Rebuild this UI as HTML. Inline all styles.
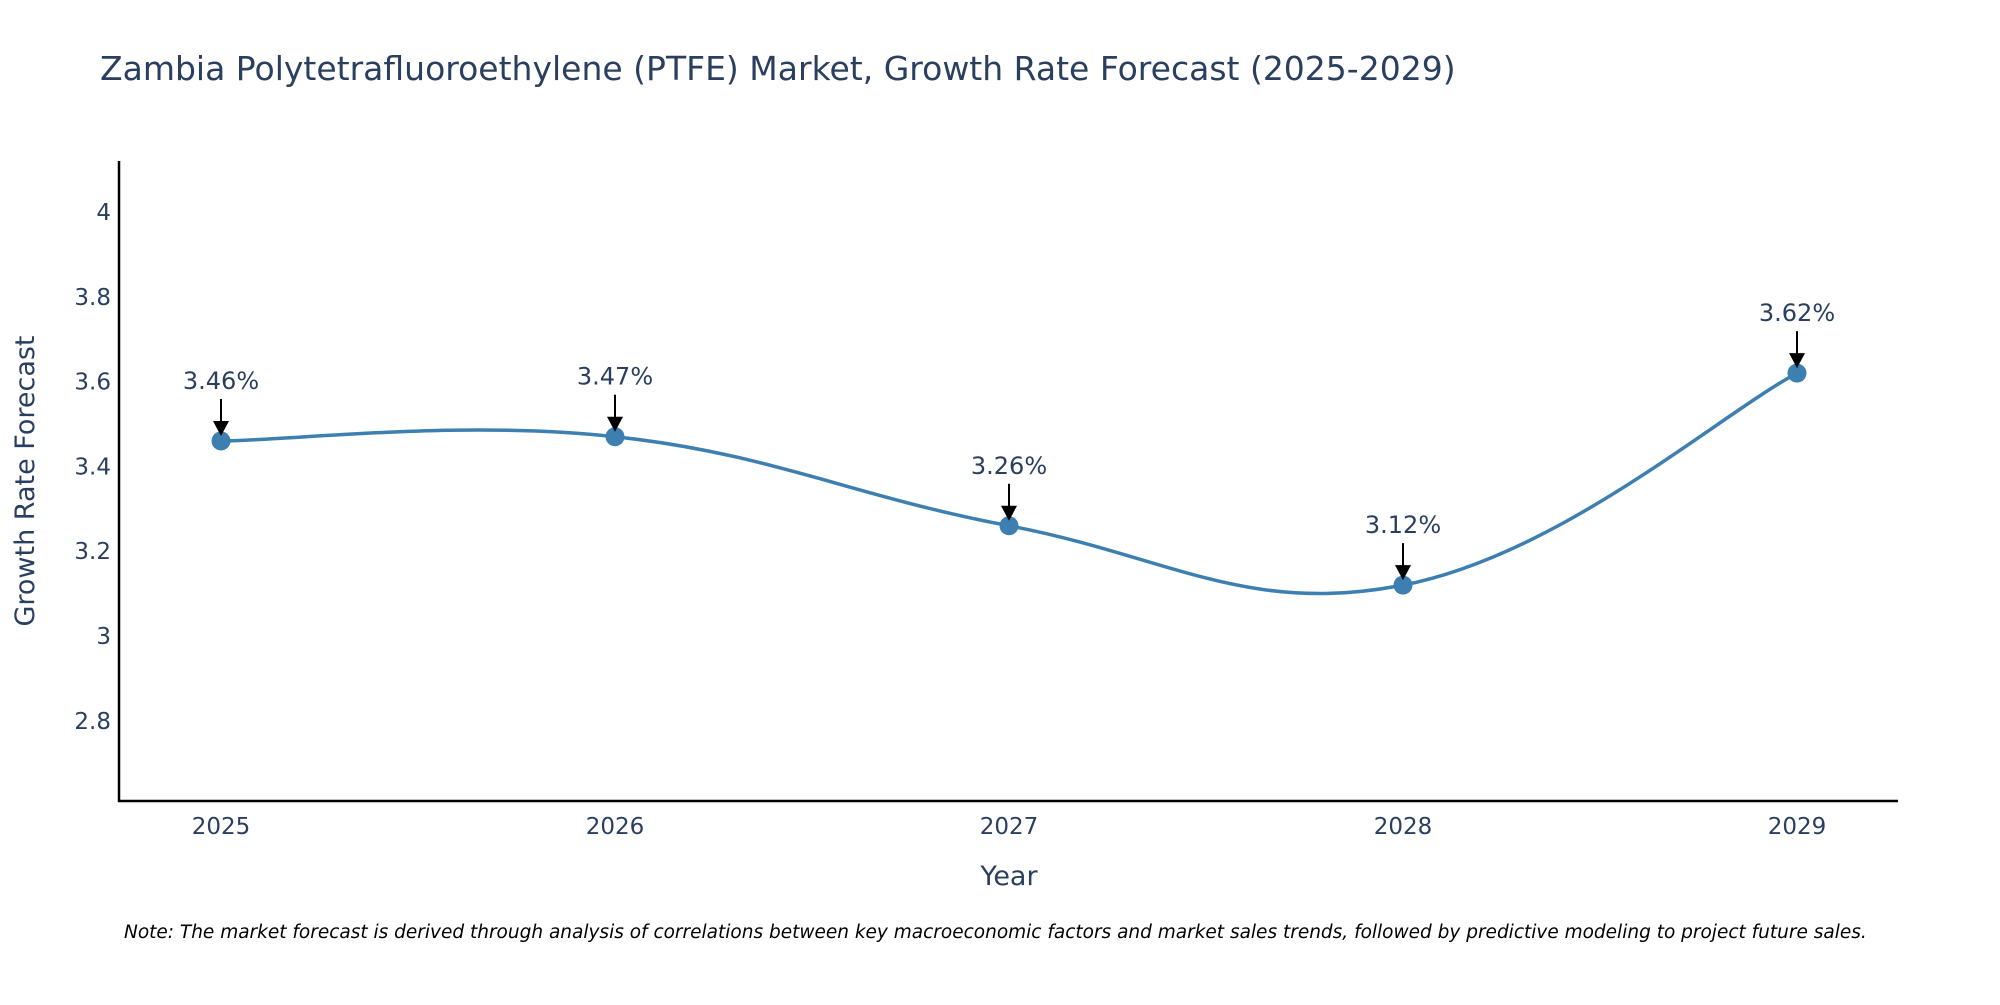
<!DOCTYPE html>
<html><head><meta charset="utf-8"><style>
body{margin:0;background:#fff;}
svg text{font-family:"DejaVu Sans","Liberation Sans",sans-serif;fill:#2a3f5f;}
</style></head><body>
<svg id="chart" width="2000" height="1000" xmlns="http://www.w3.org/2000/svg">
<text x="100" y="80" font-size="33">Zambia Polytetrafluoroethylene (PTFE) Market, Growth Rate Forecast (2025-2029)</text>
<g id="yticks"></g>
<g id="xticks"></g>
<line x1="119" y1="161" x2="119" y2="802" stroke="#000" stroke-width="2.5"/>
<line x1="118" y1="801" x2="1898" y2="801" stroke="#000" stroke-width="2.5"/>
<text transform="translate(34,481) rotate(-90)" text-anchor="middle" font-size="27">Growth Rate Forecast</text>
<text x="1009" y="885" text-anchor="middle" font-size="27">Year</text>
<g id="series"></g>
<text x="124" y="938" font-size="18.5" font-style="italic" style="fill:#000">Note: The market forecast is derived through analysis of correlations between key macroeconomic factors and market sales trends, followed by predictive modeling to project future sales.</text>
</svg>
<script>
const years = [2025, 2026, 2027, 2028, 2029];
const growth = [3.46, 3.47, 3.26, 3.12, 3.62];
const yTickValues = [2.8, 3, 3.2, 3.4, 3.6, 3.8, 4];
const yTickLabels = ["2.8", "3", "3.2", "3.4", "3.6", "3.8", "4"];

const NS = "http://www.w3.org/2000/svg";
function xScale(v){ return 221 + (v - 2025) * 394; }
function yScale(v){ return 212 + (4 - v) * 424; }
function mk(tag, attrs, parent){
  const e = document.createElementNS(NS, tag);
  for (const k in attrs) e.setAttribute(k, attrs[k]);
  parent.appendChild(e); return e;
}
const yt = document.getElementById('yticks');
yTickValues.forEach((v,i)=>{
  const t = mk('text', {x:111, y:yScale(v)+8, 'text-anchor':'end', 'font-size':23}, yt);
  
  
  t.textContent = yTickLabels[i];
});
const xt = document.getElementById('xticks');
years.forEach(v=>{
  const t = mk('text', {x:xScale(v), y:834, 'text-anchor':'middle', 'font-size':23}, xt);
  
  
  t.textContent = String(v);
});
const g = document.getElementById('series');
const pts = years.map((y,i)=>[xScale(y), yScale(growth[i])]);
let d = `M${pts[0][0]},${pts[0][1]}`;
const s = 0.2;
for (let i=0;i<pts.length-1;i++){
  const p0 = pts[Math.max(0,i-1)], p1 = pts[i], p2 = pts[i+1], p3 = pts[Math.min(pts.length-1,i+2)];
  const c1 = [p1[0]+(p2[0]-p0[0])*s, p1[1]+(p2[1]-p0[1])*s];
  const c2 = [p2[0]-(p3[0]-p1[0])*s, p2[1]-(p3[1]-p1[1])*s];
  d += ` C${c1[0]},${c1[1]} ${c2[0]},${c2[1]} ${p2[0]},${p2[1]}`;
}
const line = mk('path', {d:d, fill:'none', stroke:'#3d7fb0', 'stroke-width':3.5}, g);


pts.forEach((p,i)=>{
  const c = mk('circle', {cx:p[0], cy:p[1], r:9.5, fill:'#3d7fb0'}, g);
  
  
  const a = mk('line', {x1:p[0], y1:p[1]-42, x2:p[0], y2:p[1]-18, stroke:'#000', 'stroke-width':2}, g);
  
  
  const h = mk('polygon', {points:`${p[0]-8},${p[1]-20} ${p[0]+8},${p[1]-20} ${p[0]},${p[1]-5}`, fill:'#000'}, g);
  
  
  const t = mk('text', {x:p[0], y:p[1]-52, 'text-anchor':'middle', 'font-size':24}, g);
  
  
  t.textContent = growth[i].toFixed(2) + '%';
});
</script>
</body></html>
